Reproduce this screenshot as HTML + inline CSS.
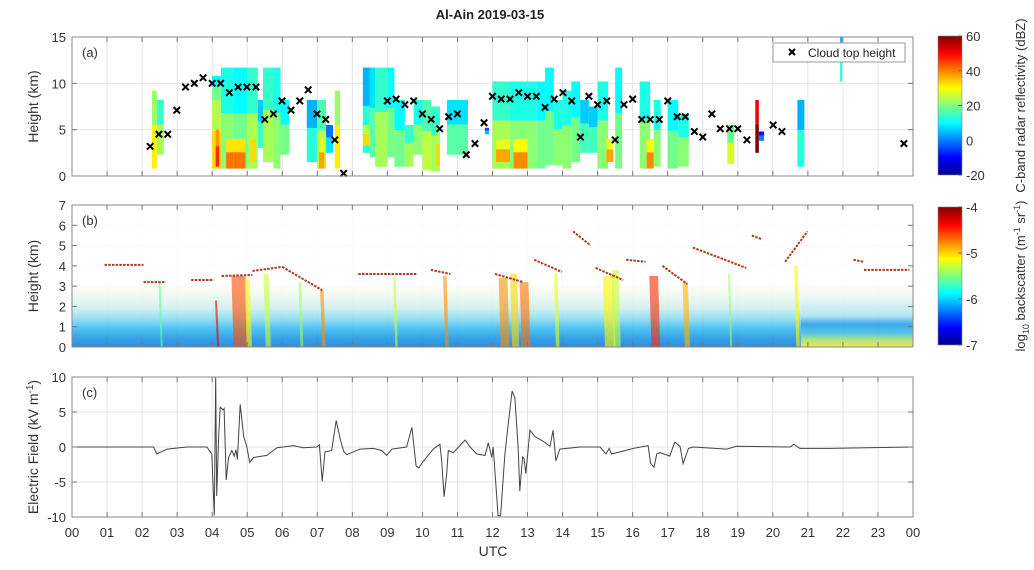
<!DOCTYPE html>
<html><head><meta charset="utf-8"><style>
body{margin:0;background:#fff;}
svg{display:block;font-family:"Liberation Sans",sans-serif;}
</style></head><body>
<svg id="fig" width="1034" height="570" viewBox="0 0 1034 570" xmlns="http://www.w3.org/2000/svg">
<defs>
<linearGradient id="jetA" x1="0" y1="1" x2="0" y2="0">
<stop offset="0" stop-color="#00008f"/><stop offset="0.125" stop-color="#0000ff"/><stop offset="0.375" stop-color="#00ffff"/><stop offset="0.625" stop-color="#ffff00"/><stop offset="0.875" stop-color="#ff0000"/><stop offset="1" stop-color="#800000"/>
</linearGradient>
<linearGradient id="aer" x1="0" y1="1" x2="0" y2="0">
<stop offset="0" stop-color="#1a7fd6"/><stop offset="0.06" stop-color="#2196e6"/><stop offset="0.13" stop-color="#3cbcf0"/><stop offset="0.2" stop-color="#8ddcf2"/><stop offset="0.28" stop-color="#d2f0ee"/><stop offset="0.38" stop-color="#f2faf0"/><stop offset="0.45" stop-color="#ffffff"/>
</linearGradient>
<linearGradient id="aerLate" x1="0" y1="1" x2="0" y2="0">
<stop offset="0" stop-color="#f0e040"/><stop offset="0.05" stop-color="#a8e070"/><stop offset="0.1" stop-color="#40bce8"/><stop offset="0.16" stop-color="#2a9ee8"/><stop offset="0.22" stop-color="#a8e4f2"/><stop offset="0.35" stop-color="#eef9f2"/><stop offset="0.45" stop-color="#ffffff"/>
</linearGradient>
</defs>
<text x="490" y="19" text-anchor="middle" font-size="13" font-weight="bold" fill="#222">Al-Ain 2019-03-15</text>
<g id="pa"></g>
<g id="pb"></g>
<g id="pc"></g>
<g id="cb"></g>
</svg>
<script>
// ---- data ----
const hourLabels=["00","01","02","03","04","05","06","07","08","09","10","11","12","13","14","15","16","17","18","19","20","21","22","23","00"];
const cthHour=[2.23,2.48,2.73,2.99,3.24,3.49,3.74,4.0,4.24,4.49,4.74,4.99,5.25,5.5,5.75,5.99,6.25,6.5,6.74,6.99,7.24,7.5,7.75,9.0,9.25,9.5,9.75,10.0,10.25,10.49,10.75,11.0,11.25,11.5,11.76,12.0,12.25,12.5,12.75,13.0,13.25,13.5,13.76,14.01,14.26,14.51,14.75,15.0,15.26,15.5,15.75,16.0,16.26,16.5,16.76,17.0,17.27,17.5,17.76,18.0,18.26,18.5,18.76,19.0,19.26,20.01,20.26,23.74];
const cthKm=[3.2,4.5,4.5,7.1,9.6,10.0,10.6,10.0,10.0,9.0,9.6,9.6,9.6,6.1,6.7,8.1,7.1,8.1,9.3,6.7,6.1,3.9,0.3,8.1,8.3,7.7,8.1,6.7,6.1,5.1,6.4,6.7,2.3,3.5,5.75,8.6,8.3,8.3,9.0,8.6,8.6,7.4,8.3,9.0,8.1,4.2,8.6,7.7,8.1,3.9,7.7,8.3,6.1,6.1,6.1,8.1,6.4,6.4,4.8,4.2,6.7,5.1,5.1,5.1,3.9,5.5,4.8,3.5];
const radStart=[2.28,2.42,4.0,4.0,4.1,4.25,4.4,4.6,4.6,5.0,5.1,5.3,5.45,5.75,5.95,6.7,6.8,7.0,7.05,7.25,7.5,8.3,8.3,8.5,8.65,9.0,9.2,9.5,9.75,10.0,10.25,10.4,10.7,11.78,12.0,12.1,12.5,12.6,13.25,13.5,13.75,14.0,14.25,14.5,14.75,15.0,15.25,15.5,16.2,16.4,16.6,17.0,17.3,18.7,19.5,19.6,20.7,21.92];
const radEnd=[2.42,2.62,4.25,4.25,4.2,4.6,4.6,5.0,4.95,5.3,5.25,5.45,5.75,5.95,6.2,7.0,7.0,7.25,7.2,7.45,7.65,8.5,8.5,8.65,9.0,9.2,9.5,9.75,10.0,10.25,10.5,10.5,11.3,11.9,12.5,12.5,13.25,13.0,13.5,13.75,14.0,14.25,14.5,14.75,15.0,15.3,15.45,15.7,16.5,16.6,16.8,17.3,17.6,18.9,19.6,19.75,20.9,21.98];
const radBase=[0.8,2.3,0.8,8.2,1.0,0.8,0.8,0.8,0.8,0.8,1.5,3.0,1.5,0.8,2.3,1.5,3.2,0.8,0.8,2.5,0.8,2.5,3.3,2.0,1.0,2.0,1.0,1.0,2.3,0.6,0.5,1.0,2.3,4.5,0.8,1.5,0.8,0.8,0.8,1.2,1.2,0.8,1.5,2.5,2.5,0.8,1.5,0.8,0.8,0.8,1.0,0.8,1.0,1.3,2.5,3.8,1.0,10.2];
const radTop=[9.2,8.2,8.2,10.8,5.0,11.7,4.0,11.7,4.0,11.7,6.0,8.2,11.7,11.7,8.2,8.2,4.5,8.2,4.0,5.5,9.2,11.7,5.5,11.7,11.7,11.7,8.2,5.5,8.2,8.2,7.5,5.5,8.2,5.2,10.2,4.0,10.2,4.0,10.2,11.7,8.2,9.2,10.2,8.2,7.5,10.2,4.0,11.7,10.2,4.0,8.2,8.2,6.7,5.5,8.2,4.8,8.2,15.0];
const radDbz=[26,18,28,14,42,16,36,14,36,18,28,10,18,16,14,8,5,20,32,3,26,8,28,12,18,14,14,18,16,20,18,28,12,0,18,32,16,34,14,14,16,16,14,10,10,16,32,14,16,34,16,14,16,22,55,-5,8,8];
const layerHour0=[0.93,2.04,3.4,4.27,5.15,6.0,8.17,10.24,12.07,13.19,14.3,14.94,15.81,16.85,17.72,19.4,20.35,22.3,22.6];
const layerHour1=[2.04,2.68,4.04,5.15,6.0,7.14,9.84,10.8,12.87,13.98,14.8,15.73,16.37,17.56,19.24,19.7,20.99,22.6,23.9];
const layerKm0=[4.05,3.2,3.3,3.5,3.75,3.95,3.6,3.8,3.6,4.3,5.7,3.9,4.3,4.0,4.9,5.5,4.2,4.3,3.8];
const layerKm1=[4.05,3.2,3.3,3.55,3.95,2.8,3.6,3.6,3.2,3.7,5.0,3.3,4.2,3.1,3.9,5.3,5.7,4.2,3.8];
const virgaHour=[2.5,4.11,4.75,5.0,5.54,6.5,7.13,9.2,10.64,12.3,12.6,12.9,13.8,15.3,15.5,16.6,17.5,18.75,20.66];
const virgaTop=[3.2,2.3,3.5,3.3,3.6,3.2,2.8,3.5,3.5,3.4,3.6,3.2,3.6,3.5,3.8,3.5,3.2,3.6,4.0];
const virgaWidth=[0.06,0.06,0.4,0.15,0.15,0.08,0.1,0.07,0.1,0.25,0.2,0.25,0.1,0.3,0.2,0.25,0.15,0.06,0.1];
const virgaLevel=[-5.6,-4.3,-4.6,-5.1,-5.3,-5.4,-4.8,-5.3,-4.8,-4.8,-5.0,-4.7,-5.2,-5.1,-5.3,-4.5,-4.9,-5.4,-5.1];
const efHour=[0,2.33,2.42,2.71,3.28,3.85,3.99,4.06,4.1,4.13,4.19,4.23,4.31,4.34,4.4,4.47,4.56,4.63,4.68,4.72,4.8,4.9,4.99,5.07,5.18,5.56,5.85,6.32,6.6,6.99,7.06,7.14,7.22,7.41,7.54,7.65,7.75,7.84,8.22,8.6,8.84,8.98,9.13,9.55,9.7,9.82,9.89,10.03,10.31,10.5,10.55,10.62,10.69,10.74,10.88,11.22,11.36,11.55,11.79,11.88,11.98,12.02,12.16,12.23,12.35,12.42,12.56,12.64,12.73,12.78,12.86,12.9,12.95,13.07,13.21,13.45,13.64,13.73,13.81,13.92,14.5,15.07,15.24,15.33,15.4,15.64,16.02,16.44,16.51,16.61,16.69,16.78,17.06,17.2,17.35,17.44,17.59,17.73,18.68,18.97,20.49,20.6,20.77,21.63,24];
const efVal=[0,0,-1.0,-0.3,0,0,-1,-9.8,10,-7,2,5.7,5.3,5.5,-4.7,-1.5,-0.5,-1.3,-0.4,-1.8,6.1,1.5,0,-2.2,-1.5,-1.2,-0.1,0.2,-0.1,0,0.3,-4.9,-0.7,-0.5,3.8,1.2,-0.6,-1.1,-0.3,-0.2,-0.5,-1.2,-0.3,0,2.8,-2.7,-3.0,-2,-0.3,0.4,-2,-7.1,-4,-0.5,-0.8,1.0,0,-1,-1.2,0.6,-1.5,0,-9.8,-9.8,-1.2,2,8,7,0,-6.3,-1.4,-1.6,-3.8,2.4,1.5,0.8,0.1,2.4,-2,-0.3,0,0,-1,-0.2,-1,-0.7,-0.2,0.2,-2.3,-2.9,-1,-0.8,-1.3,0.7,0.1,-2.4,-0.2,0,-0.3,0.1,0,0.4,-0.2,-0.2,0];
const aTicks=[0,5,10,15], bTicks=[0,1,2,3,4,5,6,7], cTicks=[-10,-5,0,5,10];
const cbATicks=[60,40,20,0,-20], cbBTicks=[-4,-5,-6,-7];

// ---- scales ----
const X0=72,X1=913;
const xs=h=>X0+h*(X1-X0)/24;
const A={top:37,bot:176,min:0,max:15}, B={top:205,bot:347,min:0,max:7}, C={top:377,bot:517,min:-10,max:10};
const ys=(P,v)=>P.bot-(v-P.min)/(P.max-P.min)*(P.bot-P.top);
const NS="http://www.w3.org/2000/svg";
function mk(parent,tag,attrs){const e=document.createElementNS(NS,tag);for(const k in attrs)e.setAttribute(k,attrs[k]);parent.appendChild(e);return e;}
function jet(t){t=Math.max(0,Math.min(1,t));const c=v=>Math.round(255*Math.max(0,Math.min(1,v)));return `rgb(${c(1.5-Math.abs(4*t-3))},${c(1.5-Math.abs(4*t-2))},${c(1.5-Math.abs(4*t-1))})`;}

function axes(g,P,ticks){
  for(let i=0;i<=24;i++){const x=xs(i);
    const gl=mk(g,'line',{x1:x,x2:x,y1:P.top,y2:P.bot,stroke:'#e4e4e4','stroke-width':1});
    }
  ticks.forEach(v=>{const y=ys(P,v);
    const gl=mk(g,'line',{x1:X0,x2:X1,y1:y,y2:y,stroke:'#e4e4e4','stroke-width':1});
    });
}
function frame(g,P,ticks,label,tag,showX){
  for(let i=0;i<=24;i++){const x=xs(i);
    mk(g,'line',{x1:x,x2:x,y1:P.bot,y2:P.bot-5,stroke:'#777'});
    mk(g,'line',{x1:x,x2:x,y1:P.top,y2:P.top+5,stroke:'#777'});}
  ticks.forEach(v=>{const y=ys(P,v);
    mk(g,'line',{x1:X0,x2:X0+5,y1:y,y2:y,stroke:'#777'});
    mk(g,'line',{x1:X1,x2:X1-5,y1:y,y2:y,stroke:'#777'});
    const t=mk(g,'text',{x:X0-6,y:y+5,'text-anchor':'end','font-size':13,fill:'#333'});t.textContent=v;
    });
  const b=mk(g,'rect',{x:X0,y:P.top,width:X1-X0,height:P.bot-P.top,fill:'none',stroke:'#888','stroke-width':1});
  
  const tg=mk(g,'text',{x:X0+10,y:P.top+20,'font-size':13,fill:'#333'});tg.textContent=tag;
  
  const cy=(P.top+P.bot)/2;
  const yl=mk(g,'text',{x:38,y:cy,'text-anchor':'middle','font-size':14,fill:'#333',transform:`rotate(-90 38 ${cy})`});
  yl.innerHTML=label;
  
  if(showX){hourLabels.forEach((s,i)=>{const t=mk(g,'text',{x:xs(i),y:537,'text-anchor':'middle','font-size':13,fill:'#333'});t.textContent=s;
    });
    const u=mk(g,'text',{x:493,y:556,'text-anchor':'middle','font-size':14,fill:'#333'});u.textContent='UTC';
    }
}

// ---- panel a ----
const pa=document.getElementById('pa');
axes(pa,A,aTicks);
const order=radDbz.map((d,i)=>i).sort((a,b)=>radDbz[a]-radDbz[b]);
order.forEach(i=>{
  const h0=radStart[i],x=xs(h0),w=xs(radEnd[i])-x;
  const yt=ys(A,radTop[i]),yb=ys(A,radBase[i]);
  const split=yt+(yb-yt)*0.45;
  const r1=mk(pa,'rect',{x:x,y:yt,width:w,height:split-yt,fill:jet((radDbz[i]-4+20)/80)});
  
  const r2=mk(pa,'rect',{x:x,y:split,width:w,height:yb-split,fill:jet((radDbz[i]+5+20)/80)});
  
});
cthHour.forEach((h,i)=>{
  const x=xs(h),y=ys(A,cthKm[i]);
  const m=mk(pa,'path',{d:`M${x-3.2},${y-3.2}L${x+3.2},${y+3.2}M${x-3.2},${y+3.2}L${x+3.2},${y-3.2}`,stroke:'#000','stroke-width':2});
  
});
frame(pa,A,aTicks,'Height (km)','(a)',false);
const lg=mk(pa,'g',{});

mk(lg,'rect',{x:773,y:43,width:132,height:19,fill:'#fff',stroke:'#999'});
mk(lg,'path',{d:'M789,49L795,55M789,55L795,49',stroke:'#000','stroke-width':2});
const lt=mk(lg,'text',{x:808,y:57,'font-size':12,fill:'#222'});lt.textContent='Cloud top height';


// ---- panel b ----
const pb=document.getElementById('pb');
axes(pb,B,bTicks);
const bg=mk(pb,'rect',{x:X0,y:B.top,width:xs(20.8)-X0,height:B.bot-B.top,fill:'url(#aer)',opacity:0.9});

const bg2=mk(pb,'rect',{x:xs(20.8),y:B.top,width:X1-xs(20.8),height:B.bot-B.top,fill:'url(#aerLate)',opacity:0.9});

virgaHour.forEach((h,i)=>{
  const w=virgaWidth[i],top=virgaTop[i];
  const col=jet((virgaLevel[i]+7)/3);
  const p=mk(pb,'path',{d:`M${xs(h-w/2)},${ys(B,top)}L${xs(h+w/2)},${ys(B,top)}L${xs(h+w/2+0.06)},${B.bot}L${xs(h-w/2+0.06)},${B.bot}Z`,fill:col,opacity:0.6});
  
});
layerHour0.forEach((h,i)=>{
  const l=mk(pb,'line',{x1:xs(h),y1:ys(B,layerKm0[i]),x2:xs(layerHour1[i]),y2:ys(B,layerKm1[i]),stroke:'#a01800','stroke-width':2,'stroke-dasharray':'2.5 1.2',opacity:0.85});
  
});
frame(pb,B,bTicks,'Height (km)','(b)',false);

// ---- panel c ----
const pc=document.getElementById('pc');
axes(pc,C,cTicks);
const pts=efHour.map((h,i)=>`${xs(h).toFixed(1)},${ys(C,efVal[i]).toFixed(1)}`).join(' ');
const ln=mk(pc,'polyline',{points:pts,fill:'none',stroke:'#444','stroke-width':1});

frame(pc,C,cTicks,'Electric Field (kV m<tspan dy="-5" font-size="10">-1</tspan><tspan dy="5">)</tspan>','(c)',true);

// ---- colorbars ----
const cb=document.getElementById('cb');
function colorbar(top,bot,ticks,label,name){
  const r=mk(cb,'rect',{x:938,y:top,width:24,height:bot-top,fill:'url(#jetA)',stroke:'#888','stroke-width':0.6});
  
  ticks.forEach((v,i)=>{const y=top+i*(bot-top)/(ticks.length-1);
    mk(cb,'line',{x1:962,x2:958,y1:y,y2:y,stroke:'#666'});
    const t=mk(cb,'text',{x:966,y:y+5,'font-size':13,fill:'#333'});t.textContent=v;
    });
  const cy=(top+bot)/2;
  const t=mk(cb,'text',{x:1025,y:cy,'text-anchor':'middle','font-size':13,fill:'#333',transform:`rotate(-90 1025 ${cy})`});
  t.innerHTML=label;
}
colorbar(36,175,cbATicks,'C-band radar reflectivity (dBZ)','reflectivity-colorbar');
colorbar(207,345,cbBTicks,'log<tspan dy="4" font-size="9">10</tspan><tspan dy="-4"> backscatter (m</tspan><tspan dy="-5" font-size="9">-1</tspan><tspan dy="5"> sr</tspan><tspan dy="-5" font-size="9">-1</tspan><tspan dy="5">)</tspan>','backscatter-colorbar');
</script>
</body></html>
